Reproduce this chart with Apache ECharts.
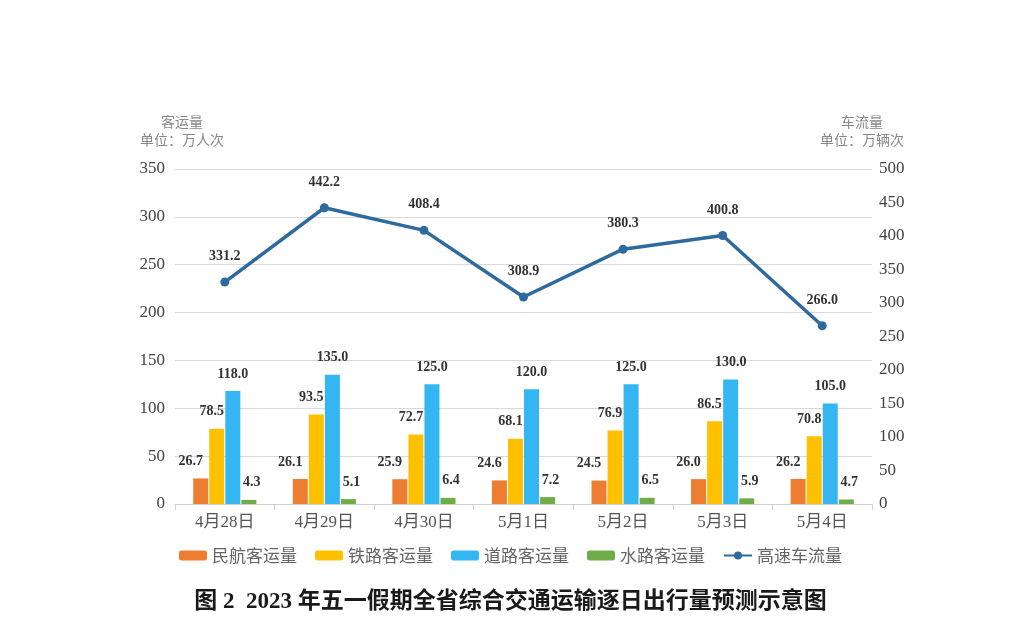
<!DOCTYPE html>
<html><head><meta charset="utf-8">
<script src="https://cdn.jsdelivr.net/npm/echarts@6/dist/echarts.min.js"></script>
<style>html,body{margin:0;padding:0;background:#fff}#c{width:1021px;height:641px}</style>
</head><body><div id="c"></div>
<script>
var categories = ['4月28日','4月29日','4月30日','5月1日','5月2日','5月3日','5月4日'];
var civilAviation = [26.7,26.1,25.9,24.6,24.5,26.0,26.2];
var railway = [78.5,93.5,72.7,68.1,76.9,86.5,70.8];
var road = [118.0,135.0,125.0,120.0,125.0,130.0,105.0];
var waterway = [4.3,5.1,6.4,7.2,6.5,5.9,4.7];
var highwayFlow = [331.2,442.2,408.4,308.9,380.3,400.8,266.0];
var seriesNames = ['民航客运量','铁路客运量','道路客运量','水路客运量','高速车流量'];

var serif = '"Liberation Serif","Times New Roman",serif';
var mixed = '"Liberation Serif","Noto Sans CJK SC",serif';
var cjk = '"Noto Sans CJK SC","Liberation Serif",serif';
function lbl(offx){
  return {show:true, position:'top', distance:10, offset:[offx,0], fontFamily:serif, fontWeight:'bold', fontSize:14, color:'#333',
    formatter:function(p){return Number(p.value).toFixed(1);}};
}
var chart = echarts.init(document.getElementById('c'));
chart.setOption({
  animation:false,
  textStyle:{fontFamily:serif},
  grid:{left:175, right:149, top:169, bottom:137},
  legend:{
    bottom:72, left:'center', itemWidth:28, itemHeight:10, itemGap:18,
    textStyle:{fontFamily:cjk, fontSize:17, color:'#666'},
    data:seriesNames
  },
  title:{
    text:'图 2  2023 年五一假期全省综合交通运输逐日出行量预测示意图',
    left:'center', top:586,
    textStyle:{fontFamily:mixed, fontSize:23, fontWeight:'bold', color:'#1a1a1a'}
  },
  xAxis:{
    type:'category', data:categories, boundaryGap:true,
    axisLine:{lineStyle:{color:'#d0d0d0'}},
    axisTick:{show:true, length:6, lineStyle:{color:'#d0d0d0'}},
    axisLabel:{fontFamily:mixed, fontSize:17, color:'#555', margin:10}
  },
  yAxis:[
    {type:'value', min:0, max:350, interval:50,
     name:'客运量\n单位：万人次', nameLocation:'end', nameGap:20,
     nameTextStyle:{fontFamily:cjk, fontSize:14, color:'#888', lineHeight:18, align:'center', padding:[0,0,0,14]},
     axisLine:{show:false}, axisTick:{show:false},
     splitLine:{lineStyle:{color:'#d9d9d9'}},
     axisLabel:{fontFamily:serif, fontSize:17, color:'#444', margin:10}},
    {type:'value', min:0, max:500, interval:50,
     name:'车流量\n单位：万辆次', nameLocation:'end', nameGap:20,
     nameTextStyle:{fontFamily:cjk, fontSize:14, color:'#888', lineHeight:18, align:'center', padding:[0,20,0,0]},
     axisLine:{show:false}, axisTick:{show:false}, splitLine:{show:false},
     axisLabel:{fontFamily:serif, fontSize:17, color:'#444', margin:7}}
  ],
  series:[
    {name:seriesNames[0], type:'bar', data:civilAviation, barWidth:15, barGap:'7%', itemStyle:{color:'#ED7D31'}, label:lbl(-10)},
    {name:seriesNames[1], type:'bar', data:railway, barWidth:15, barGap:'7%', itemStyle:{color:'#FFC000'}, label:lbl(-5)},
    {name:seriesNames[2], type:'bar', data:road, barWidth:15, barGap:'7%', itemStyle:{color:'#33B6F2'}, label:lbl(0)},
    {name:seriesNames[3], type:'bar', data:waterway, barWidth:15, barGap:'7%', itemStyle:{color:'#70AD47'}, label:lbl(3)},
    {name:seriesNames[4], type:'line', yAxisIndex:1, data:highwayFlow, symbol:'circle', symbolSize:9,
     lineStyle:{color:'#2F6A9F', width:3.5}, itemStyle:{color:'#2F6A9F'},
     label:{show:true, position:'top', distance:14, fontFamily:serif, fontWeight:'bold', fontSize:14, color:'#333',
       formatter:function(p){return Number(p.value).toFixed(1);}}}
  ]
});
</script></body></html>
